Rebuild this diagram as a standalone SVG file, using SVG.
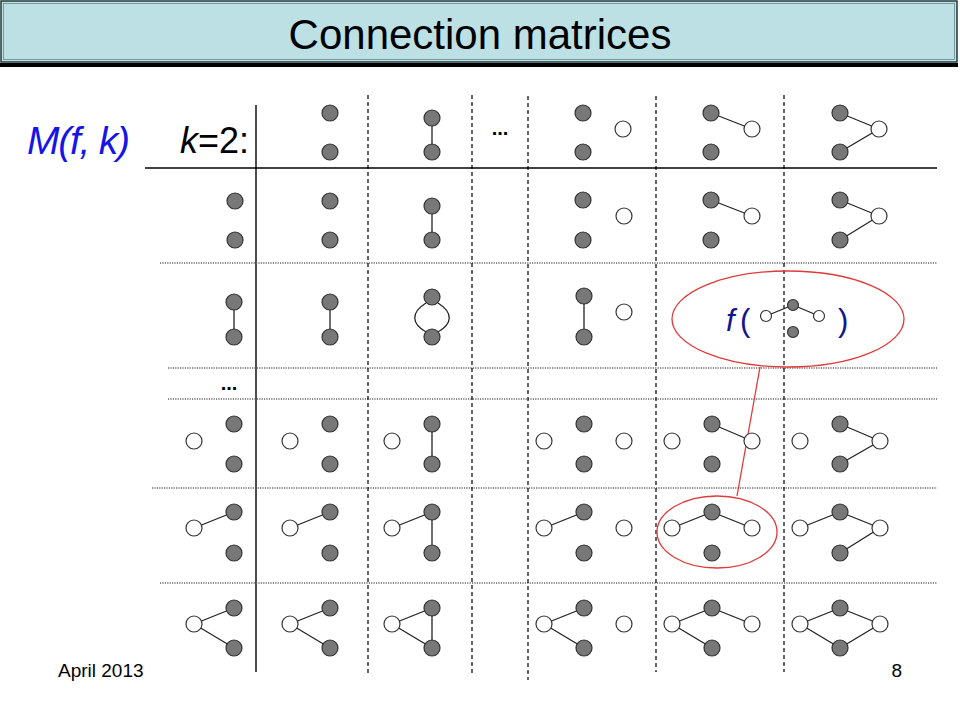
<svg xmlns="http://www.w3.org/2000/svg" width="960" height="720" viewBox="0 0 960 720">
<defs>
<style>
.f{fill:#787878;stroke:#333;stroke-width:1.2}
.o{fill:#fff;stroke:#333;stroke-width:1.2}
.e{stroke:#222;stroke-width:1.3;fill:none}
.dot{stroke:#666;stroke-width:1.3;stroke-dasharray:1.2 1.2;fill:none}
.dash{stroke:#000;stroke-width:1.2;stroke-dasharray:4 3;fill:none}
.sol{stroke:#000;stroke-width:1.4;fill:none}
.t{font-family:"Liberation Sans",Arial,sans-serif}
.red{stroke:#e03a3a;stroke-width:1.3;fill:none}
</style>
</defs>
<rect width="960" height="720" fill="#fff"/>
<g id="title">
<rect x="0" y="63" width="958" height="4" fill="#000"/>
<rect x="1" y="1" width="956" height="61" fill="#bce0e4" stroke="#1f3a3f" stroke-width="1.5"/>
<rect x="3.5" y="3.5" width="951" height="56" fill="none" stroke="#6c8a8e" stroke-width="0.8"/>
<text class="t" x="480" y="49" font-size="42" text-anchor="middle" fill="#000">Connection matrices</text>
</g>
<g id="labels">
<text class="t" x="27" y="154" font-size="39" font-style="italic" fill="#1515e6" textLength="103" lengthAdjust="spacing">M(f, k)</text>
<text class="t" x="180" y="153" font-size="36" fill="#000"><tspan font-style="italic">k</tspan>=2:</text>
<text class="t" x="500" y="135" font-size="20" font-weight="bold" text-anchor="middle" fill="#000">...</text>
<text class="t" x="229" y="390" font-size="20" font-weight="bold" text-anchor="middle" fill="#000">...</text>
<text class="t" x="58" y="677" font-size="19" fill="#000">April 2013</text>
<text class="t" x="902" y="677" font-size="19" text-anchor="end" fill="#000">8</text>
</g>
<g id="grid">
<line class="sol" x1="145" y1="168" x2="937" y2="168"/>
<line class="sol" x1="256" y1="105" x2="256" y2="672"/>
<line class="dot" x1="160" y1="263" x2="937" y2="263"/>
<line class="dot" x1="168" y1="368" x2="937" y2="368"/>
<line class="dot" x1="168" y1="399" x2="937" y2="399"/>
<line class="dot" x1="152" y1="488" x2="937" y2="488"/>
<line class="dot" x1="160" y1="583" x2="937" y2="583"/>
<line class="dash" x1="368" y1="95" x2="368" y2="673"/>
<line class="dash" x1="472" y1="95" x2="472" y2="673"/>
<line class="dash" x1="528" y1="96" x2="528" y2="680"/>
<line class="dash" x1="656" y1="96" x2="656" y2="672"/>
<line class="dash" x1="784" y1="95" x2="784" y2="672"/>
</g>
<g id="connectors">
<line class="e" x1="432" y1="118" x2="432" y2="152"/>
<line class="e" x1="711" y1="113" x2="752" y2="129"/>
<line class="e" x1="840" y1="113" x2="879" y2="129"/>
<line class="e" x1="840" y1="152" x2="879" y2="129"/>
<line class="e" x1="432" y1="206" x2="432" y2="240"/>
<line class="e" x1="711" y1="200" x2="752" y2="216"/>
<line class="e" x1="840" y1="200" x2="879" y2="216"/>
<line class="e" x1="840" y1="240" x2="879" y2="216"/>
<line class="e" x1="234" y1="302" x2="234" y2="337"/>
<line class="e" x1="330" y1="302" x2="330" y2="337"/>
<path class="e" d="M426 303 C 410 313, 412 324, 426 332"/>
<path class="e" d="M438 303 C 454 313, 452 324, 438 332"/>
<line class="e" x1="584" y1="296" x2="584" y2="337"/>
<line class="e" x1="766" y1="316" x2="793" y2="305"/>
<line class="e" x1="793" y1="305" x2="819" y2="316"/>
<line class="e" x1="432" y1="424" x2="432" y2="464"/>
<line class="e" x1="712" y1="424" x2="752" y2="441"/>
<line class="e" x1="840" y1="424" x2="880" y2="441"/>
<line class="e" x1="840" y1="464" x2="880" y2="441"/>
<line class="e" x1="194" y1="528" x2="234" y2="512"/>
<line class="e" x1="290" y1="528" x2="330" y2="512"/>
<line class="e" x1="392" y1="528" x2="432" y2="512"/>
<line class="e" x1="432" y1="512" x2="432" y2="553"/>
<line class="e" x1="544" y1="528" x2="584" y2="512"/>
<line class="e" x1="672" y1="528" x2="712" y2="512"/>
<line class="e" x1="712" y1="512" x2="752" y2="528"/>
<line class="e" x1="800" y1="528" x2="840" y2="512"/>
<line class="e" x1="840" y1="512" x2="880" y2="528"/>
<line class="e" x1="840" y1="553" x2="880" y2="528"/>
<line class="e" x1="194" y1="624" x2="234" y2="608"/>
<line class="e" x1="194" y1="624" x2="234" y2="648"/>
<line class="e" x1="290" y1="624" x2="330" y2="608"/>
<line class="e" x1="290" y1="624" x2="330" y2="648"/>
<line class="e" x1="392" y1="624" x2="432" y2="608"/>
<line class="e" x1="392" y1="624" x2="432" y2="648"/>
<line class="e" x1="432" y1="608" x2="432" y2="648"/>
<line class="e" x1="544" y1="624" x2="584" y2="608"/>
<line class="e" x1="544" y1="624" x2="584" y2="648"/>
<line class="e" x1="672" y1="624" x2="712" y2="608"/>
<line class="e" x1="672" y1="624" x2="712" y2="648"/>
<line class="e" x1="712" y1="608" x2="752" y2="624"/>
<line class="e" x1="800" y1="624" x2="840" y2="608"/>
<line class="e" x1="800" y1="624" x2="840" y2="648"/>
<line class="e" x1="840" y1="608" x2="880" y2="624"/>
<line class="e" x1="840" y1="648" x2="880" y2="624"/>
<line class="red" x1="760" y1="367" x2="737" y2="496"/>
</g>
<g id="row0">
<circle class="f" cx="330" cy="113" r="8"/><circle class="f" cx="330" cy="152" r="8"/>
<circle class="f" cx="432" cy="118" r="8"/><circle class="f" cx="432" cy="152" r="8"/>
<circle class="f" cx="583" cy="113" r="8"/><circle class="f" cx="583" cy="152" r="8"/><circle class="o" cx="623" cy="129" r="8"/>
<circle class="f" cx="711" cy="113" r="8"/><circle class="f" cx="711" cy="152" r="8"/><circle class="o" cx="752" cy="129" r="8"/>
<circle class="f" cx="840" cy="113" r="8"/><circle class="f" cx="840" cy="152" r="8"/><circle class="o" cx="879" cy="129" r="8"/>
</g>
<g id="row1">
<circle class="f" cx="235" cy="201" r="8"/><circle class="f" cx="235" cy="240" r="8"/>
<circle class="f" cx="330" cy="201" r="8"/><circle class="f" cx="330" cy="240" r="8"/>
<circle class="f" cx="432" cy="206" r="8"/><circle class="f" cx="432" cy="240" r="8"/>
<circle class="f" cx="583" cy="200" r="8"/><circle class="f" cx="583" cy="240" r="8"/><circle class="o" cx="624" cy="216" r="8"/>
<circle class="f" cx="711" cy="200" r="8"/><circle class="f" cx="711" cy="240" r="8"/><circle class="o" cx="752" cy="216" r="8"/>
<circle class="f" cx="840" cy="200" r="8"/><circle class="f" cx="840" cy="240" r="8"/><circle class="o" cx="879" cy="216" r="8"/>
</g>
<g id="row2">
<circle class="f" cx="234" cy="302" r="8"/><circle class="f" cx="234" cy="337" r="8"/>
<circle class="f" cx="330" cy="302" r="8"/><circle class="f" cx="330" cy="337" r="8"/>
<circle class="f" cx="432" cy="297" r="8"/><circle class="f" cx="432" cy="337" r="8"/>
<circle class="f" cx="584" cy="296" r="8"/><circle class="f" cx="584" cy="337" r="8"/><circle class="o" cx="624" cy="312" r="8"/>
</g>
<g id="callout">
<ellipse class="red" cx="788" cy="319" rx="116" ry="48"/>
<text class="t" x="726" y="331" font-size="31" font-style="italic" fill="#14148c">f</text>
<text class="t" x="740" y="331" font-size="31" fill="#14148c">(</text>
<text class="t" x="838" y="331" font-size="31" fill="#14148c">)</text>
<circle class="o" cx="766" cy="316" r="5.5"/><circle class="f" cx="793" cy="305" r="5.5"/><circle class="o" cx="819" cy="316" r="5.5"/><circle class="f" cx="793" cy="332" r="5.5"/>
</g>
<g id="row3">
<circle class="o" cx="194" cy="441" r="8"/><circle class="f" cx="234" cy="424" r="8"/><circle class="f" cx="234" cy="464" r="8"/>
<circle class="o" cx="290" cy="441" r="8"/><circle class="f" cx="330" cy="424" r="8"/><circle class="f" cx="330" cy="464" r="8"/>
<circle class="o" cx="392" cy="441" r="8"/><circle class="f" cx="432" cy="424" r="8"/><circle class="f" cx="432" cy="464" r="8"/>
<circle class="o" cx="544" cy="441" r="8"/><circle class="f" cx="584" cy="424" r="8"/><circle class="f" cx="584" cy="464" r="8"/><circle class="o" cx="624" cy="441" r="8"/>
<circle class="o" cx="672" cy="441" r="8"/><circle class="f" cx="712" cy="424" r="8"/><circle class="f" cx="712" cy="464" r="8"/><circle class="o" cx="752" cy="441" r="8"/>
<circle class="o" cx="800" cy="441" r="8"/><circle class="f" cx="840" cy="424" r="8"/><circle class="f" cx="840" cy="464" r="8"/><circle class="o" cx="880" cy="441" r="8"/>
</g>
<g id="row4">
<circle class="o" cx="194" cy="528" r="8"/><circle class="f" cx="234" cy="512" r="8"/><circle class="f" cx="234" cy="553" r="8"/>
<circle class="o" cx="290" cy="528" r="8"/><circle class="f" cx="330" cy="512" r="8"/><circle class="f" cx="330" cy="553" r="8"/>
<circle class="o" cx="392" cy="528" r="8"/><circle class="f" cx="432" cy="512" r="8"/><circle class="f" cx="432" cy="553" r="8"/>
<circle class="o" cx="544" cy="528" r="8"/><circle class="f" cx="584" cy="512" r="8"/><circle class="f" cx="584" cy="553" r="8"/><circle class="o" cx="624" cy="528" r="8"/>
<circle class="o" cx="672" cy="528" r="8"/><circle class="f" cx="712" cy="512" r="8"/><circle class="f" cx="712" cy="553" r="8"/><circle class="o" cx="752" cy="528" r="8"/>
<circle class="o" cx="800" cy="528" r="8"/><circle class="f" cx="840" cy="512" r="8"/><circle class="f" cx="840" cy="553" r="8"/><circle class="o" cx="880" cy="528" r="8"/>
<ellipse class="red" cx="717" cy="532" rx="60" ry="36"/>
</g>
<g id="row5">
<circle class="o" cx="194" cy="624" r="8"/><circle class="f" cx="234" cy="608" r="8"/><circle class="f" cx="234" cy="648" r="8"/>
<circle class="o" cx="290" cy="624" r="8"/><circle class="f" cx="330" cy="608" r="8"/><circle class="f" cx="330" cy="648" r="8"/>
<circle class="o" cx="392" cy="624" r="8"/><circle class="f" cx="432" cy="608" r="8"/><circle class="f" cx="432" cy="648" r="8"/>
<circle class="o" cx="544" cy="624" r="8"/><circle class="f" cx="584" cy="608" r="8"/><circle class="f" cx="584" cy="648" r="8"/><circle class="o" cx="624" cy="624" r="8"/>
<circle class="o" cx="672" cy="624" r="8"/><circle class="f" cx="712" cy="608" r="8"/><circle class="f" cx="712" cy="648" r="8"/><circle class="o" cx="752" cy="624" r="8"/>
<circle class="o" cx="800" cy="624" r="8"/><circle class="f" cx="840" cy="608" r="8"/><circle class="f" cx="840" cy="648" r="8"/><circle class="o" cx="880" cy="624" r="8"/>
</g>
</svg>
